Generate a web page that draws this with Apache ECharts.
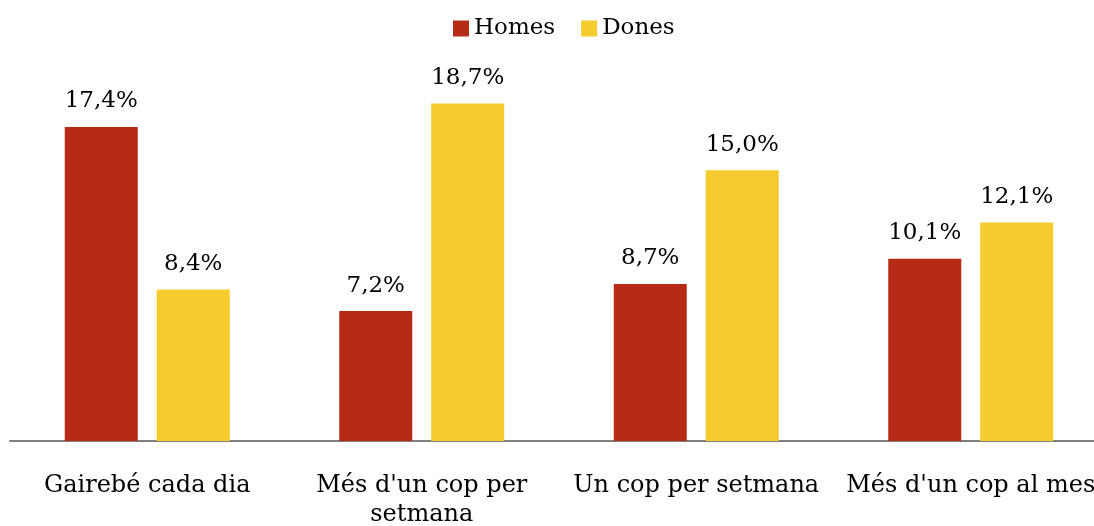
<!DOCTYPE html>
<html>
<head>
<meta charset="utf-8">
<script src="https://cdn.jsdelivr.net/npm/echarts@6/dist/echarts.min.js"></script>
<style>
  html, body { margin: 0; padding: 0; background: #fff; }
  #chart { width: 1094px; height: 526px; }
</style>
</head>
<body>
<div id="chart"></div>
<script>
var categories = ['Gairebé cada dia', "Més d'un cop per\nsetmana", 'Un cop per setmana', "Més d'un cop al mes"];
var homes = [17.4, 7.2, 8.7, 10.1];
var dones = [8.4, 18.7, 15.0, 12.1];

var font = 'DejaVu Serif';

function pct(p) {
    return p.value.toFixed(1).replace('.', ',') + '%';
}

var myChart = echarts.init(document.getElementById('chart'));

var option = {
    animation: false,
    legend: {
        top: 12,
        left: 448,
        itemWidth: 16,
        itemHeight: 16,
        itemGap: 26,
        icon: 'rect',
        textStyle: { fontFamily: font, fontSize: 23, color: '#000' }
    },
    grid: {
        left: 10,
        right: -14,
        top: 80,
        bottom: 85,
        outerBoundsMode: 'none'
    },
    xAxis: {
        type: 'category',
        data: categories,
        axisLine: { lineStyle: { color: '#808080', width: 2 } },
        axisTick: { show: false },
        axisLabel: {
            fontFamily: font,
            fontSize: 24,
            color: '#000',
            margin: 30,
            lineHeight: 29,
            interval: 0
        }
    },
    yAxis: {
        type: 'value',
        min: 0,
        max: 20,
        show: false,
        splitLine: { show: false }
    },
    series: [
        {
            name: 'Homes',
            type: 'bar',
            data: homes,
            barWidth: 73,
            barGap: '26%',
            itemStyle: { color: '#B52B16' },
            label: {
                show: true,
                position: 'top',
                distance: 14,
                fontFamily: font,
                fontSize: 23,
                color: '#000',
                formatter: pct
            }
        },
        {
            name: 'Dones',
            type: 'bar',
            data: dones,
            barWidth: 73,
            itemStyle: { color: '#F5CB2E' },
            label: {
                show: true,
                position: 'top',
                distance: 14,
                fontFamily: font,
                fontSize: 23,
                color: '#000',
                formatter: pct
            }
        }
    ]
};

myChart.setOption(option);
</script>
</body>
</html>
